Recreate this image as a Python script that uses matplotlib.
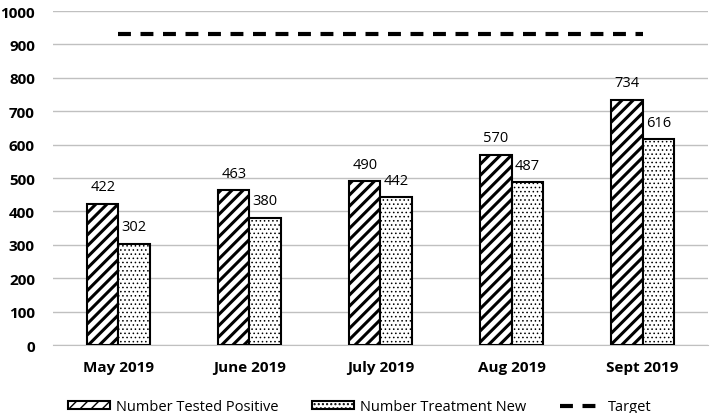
import matplotlib.pyplot as plt
import matplotlib as mpl
import numpy as np

months = ["May 2019", "June 2019", "July 2019", "Aug 2019", "Sept 2019"]
tested_positive = [422, 463, 490, 570, 734]
treatment_new = [302, 380, 442, 487, 616]
target = [930, 930, 930, 930, 930]

plt.rcParams['font.family'] = ['Open Sans', 'DejaVu Sans']

fig = plt.figure(figsize=(7.12, 4.14), dpi=100)
ax = fig.add_axes([0.0744, 0.164, 0.92, 0.807])

x = np.arange(len(months))
w = 0.24

with mpl.rc_context({'hatch.linewidth': 2.2}):
    b1 = ax.bar(x - w / 2, tested_positive, w, color='white', edgecolor='black',
                hatch='///', linewidth=1.5, label='Number Tested Positive', zorder=3)
with mpl.rc_context({'hatch.linewidth': 0.6}):
    b2 = ax.bar(x + w / 2, treatment_new, w, color='white', edgecolor='black',
                hatch='....', linewidth=1.5, label='Number Treatment New', zorder=3)

ln, = ax.plot(x, target, color='black', linestyle=(0, (3.1, 2.3)), linewidth=3,
              label='Target', zorder=4)

# 数据标签
for bars in (b1, b2):
    for r in bars:
        ax.annotate(str(int(r.get_height())), (r.get_x() + r.get_width() / 2, r.get_height()),
                    xytext=(0, 7), textcoords='offset points', ha='center', va='bottom',
                    fontsize=10.5)

ax.set_ylim(0, 1000)
ax.set_xlim(-0.5, 4.5)
ax.set_yticks(range(0, 1001, 100))
ax.set_xticks(x)
ax.set_xticklabels(months, fontweight='bold', fontsize=11)
for t in ax.get_yticklabels():
    t.set_fontweight('bold')
    t.set_fontsize(11)
ax.tick_params(length=0, pad=13)
ax.tick_params(axis='x', pad=11)
ax.grid(axis='y', color='#c0c0c0', linewidth=1)
ax.set_axisbelow(True)
for s in ['top', 'right', 'left']:
    ax.spines[s].set_visible(False)
ax.spines['bottom'].set_color('#c0c0c0')

fig.legend(handles=[b1, b2, ln], loc='lower center', bbox_to_anchor=(0.505, -0.035), ncol=3,
           frameon=False, fontsize=10.5, handlelength=2.9, handleheight=0.5,
           columnspacing=2.3, handletextpad=0.4)

fig.savefig('out.png', dpi=100)
